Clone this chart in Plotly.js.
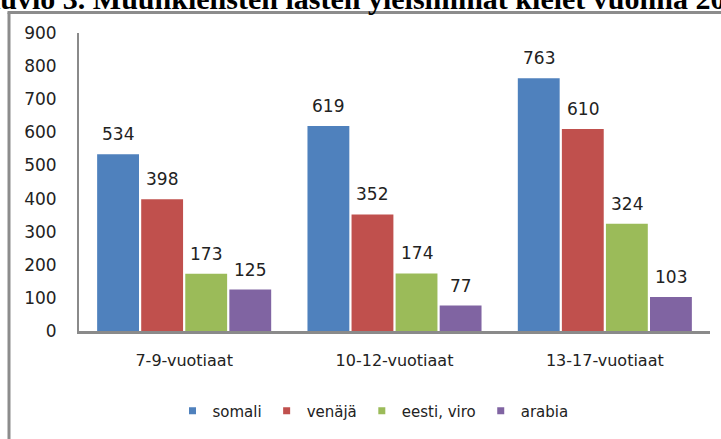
<!DOCTYPE html>
<html>
<head>
<meta charset="utf-8">
<script src="https://cdn.plot.ly/plotly-3.0.1.min.js"></script>
<style>html,body{margin:0;padding:0;background:#fff;}#chart{width:721px;height:439px;}</style>
</head>
<body>
<div id="chart"></div>
<script>
const categories = ['7-9-vuotiaat', '10-12-vuotiaat', '13-17-vuotiaat'];
const seriesNames = ['somali', 'venäjä', 'eesti, viro', 'arabia'];
const somali = [534, 619, 763];
const venaja = [398, 352, 610];
const eestiViro = [173, 174, 324];
const arabia = [125, 77, 103];
const yTicks = [0, 100, 200, 300, 400, 500, 600, 700, 800, 900];
const titleText = 'Kuvio 3. Muunkielisten lasten yleisimmät kielet vuonna 2010';

const seriesValues = [somali, venaja, eestiViro, arabia];
const colors = ['#4F81BD', '#C0504D', '#9BBB59', '#8064A2'];

const W = 721, H = 439;
const margin = {l: 79, r: 11, t: 33, b: 108};
const plotW = W - margin.l - margin.r;
const plotH = H - margin.t - margin.b;
const bargap = 0.162;
const slotPx = plotW / categories.length * (1 - bargap) / seriesNames.length;

const traces = seriesNames.map((name, i) => ({
  type: 'bar',
  name: name,
  x: categories,
  y: seriesValues[i],
  marker: {color: colors[i]},
  showlegend: false,
  hoverinfo: 'skip'
}));
// legend entries with small square swatches
seriesNames.forEach((name, i) => {
  traces.push({
    type: 'scatter', mode: 'markers', name: name,
    x: [null], y: [null],
    marker: {symbol: 'square', size: 7, color: colors[i]},
    showlegend: true, hoverinfo: 'skip'
  });
});

const annotations = [];
seriesValues.forEach((vals, i) => {
  vals.forEach((v, j) => {
    annotations.push({
      x: categories[j], y: v, xref: 'x', yref: 'y',
      text: String(v), showarrow: false,
      xshift: (i - 1.5) * slotPx, yshift: 20,
      font: {family: 'DejaVu Sans', size: 17, color: '#222'}
    });
  });
});

const px2x = p => (p - margin.l) / plotW;
const py2y = p => (H - margin.b - p) / plotH;

annotations.push({
  xref: 'paper', yref: 'paper', x: px2x(-25), y: py2y(-2),
  xanchor: 'left', yanchor: 'middle', showarrow: false,
  text: '<b>' + titleText + '</b>',
  font: {family: 'Liberation Serif', size: 30, color: '#000'}
});

const frameColor = '#8c8c8c';
const shapes = [
  {type: 'line', xref: 'paper', yref: 'paper', x0: px2x(9), x1: px2x(9), y0: py2y(500), y1: py2y(12.5), line: {color: frameColor, width: 3}},
  {type: 'line', xref: 'paper', yref: 'paper', x0: px2x(7.5), x1: px2x(760), y0: py2y(12.5), y1: py2y(12.5), line: {color: frameColor, width: 3}}
];

const layout = {
  width: W, height: H,
  margin: margin,
  paper_bgcolor: '#fff', plot_bgcolor: '#fff',
  barmode: 'group', bargap: bargap, bargroupgap: 0.05,
  showlegend: true,
  legend: {
    orientation: 'h', x: px2x(373), xanchor: 'center', y: py2y(411), yanchor: 'middle',
    font: {family: 'DejaVu Sans', size: 15, color: '#222'},
    itemwidth: 30, traceorder: 'normal'
  },
  xaxis: {
    type: 'category', showgrid: false, zeroline: false,
    showline: true, linecolor: '#8a8a8a', linewidth: 3,
    ticks: 'outside', ticklen: 13, tickcolor: 'rgba(0,0,0,0)',
    tickfont: {family: 'DejaVu Sans', size: 16, color: '#222'}
  },
  yaxis: {
    range: [0, 900], tickvals: yTicks, showgrid: false, zeroline: false,
    showline: true, linecolor: '#8a8a8a', linewidth: 2,
    ticks: 'outside', ticklen: 17, tickcolor: 'rgba(0,0,0,0)',
    tickfont: {family: 'DejaVu Sans', size: 17, color: '#222'}
  },
  annotations: annotations,
  shapes: shapes
};

Plotly.newPlot('chart', traces, layout, {displayModeBar: false, staticPlot: true});
</script>
</body>
</html>
